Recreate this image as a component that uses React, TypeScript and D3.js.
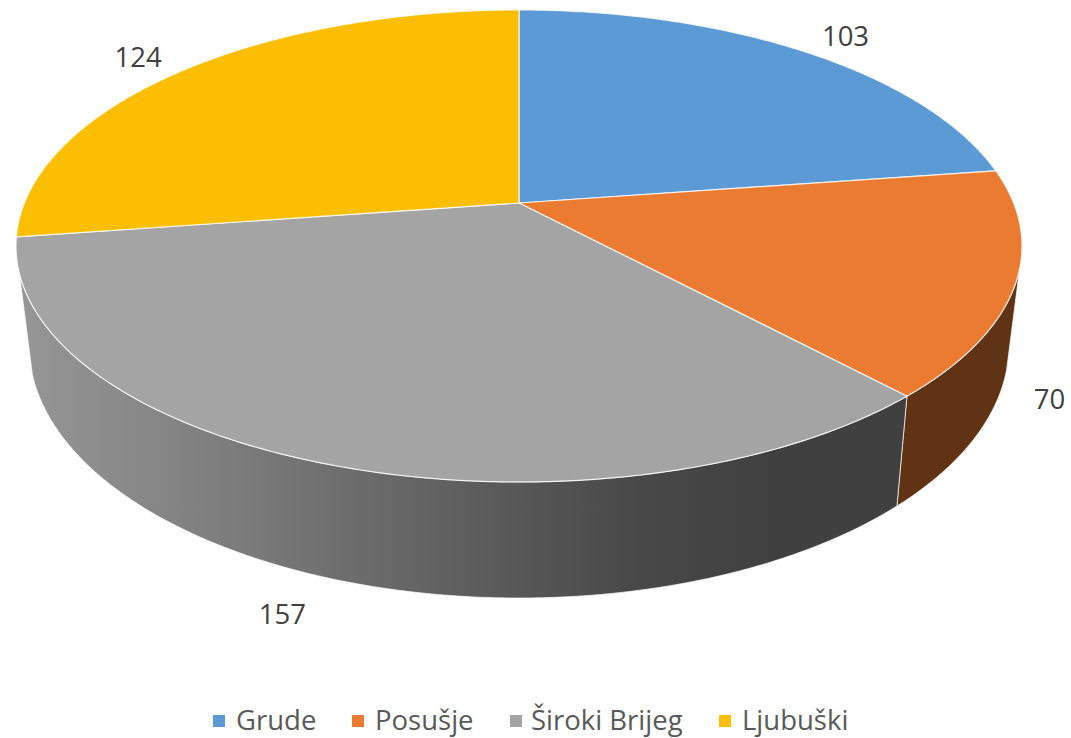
import React from 'react';
import * as d3 from 'd3';

const categories = ['Grude', 'Posušje', 'Široki Brijeg', 'Ljubuški'];
const values = [103, 70, 157, 124];
const topColors = ['#5b9ad5', '#eb7b30', '#a4a4a4', '#fbbe00'];
// only the slices that face the viewer show a side wall
const sideColors = ['#2f5597', '#5f3314', 'url(#sideGrey)', '#7f6000'];
const greyStops = ['#959595', '#868686', '#767676', '#666666', '#565656', '#474747', '#404040', '#404040'];

const width = 1071;
const height = 738;

// perspective of the top disc and of the (rounder) bottom disc
const cx = 519;
const tilt = 0.182;
const topDisc = { cy: 203, sx: 494.6, sy: 228.2 };
const bottomDisc = { cy: 299, sx: 481.8, sy: 244.6 };

// angles where the wall silhouette leaves the disc
const wallStart = d3.scaleLinear().domain([0, 360]).range([0, Math.PI * 2])(106);
const wallEnd = d3.scaleLinear().domain([0, 360]).range([0, Math.PI * 2])(253);

function project(angle: number, r = 1, disc = topDisc): [number, number] {
  const x = Math.sin(angle) * r;
  const y = -Math.cos(angle) * r;
  const w = 1 - tilt * y;
  return [cx + (disc.sx * x) / w, disc.cy + (disc.sy * y) / w];
}

function arcAngles(a0: number, a1: number) {
  const n = Math.max(2, Math.ceil((a1 - a0) / 0.01));
  return d3.range(n + 1).map((i) => a0 + ((a1 - a0) * i) / n);
}

const line = d3.line();

const arcs = d3.pie<number>().sort(null)(values);

function topPath(a0: number, a1: number) {
  const pts: [number, number][] = arcAngles(a0, a1).map((a) => project(a));
  return line([[cx, topDisc.cy], ...pts, [cx, topDisc.cy]]) + 'Z';
}

function sidePath(a0: number, a1: number) {
  const from = arcAngles(a0, a1);
  const upper = from.map((a) => project(a));
  const lower = from.slice().reverse().map((a) => project(a, 1, bottomDisc));
  return line([...upper, ...lower]) + 'Z';
}

const xGrad = d3.scaleLinear().domain([0, greyStops.length - 1]).range([0, 100]);

// label position = point on the disc, pushed out by a radius factor and nudged
const labelRadius = [1.16, 1.12, 1.13, 1.12];
const labelShift: [number, number][] = [[3, 5], [-30, 104], [-6, 109], [-11, 1]];

const legendX = [213, 352, 510, 719];
const legendTextX = [236, 375, 531, 742];
const fmt = d3.format('d');

export default function App() {
  const labels = arcs.map((d, i) => {
    const mid = (d.startAngle + d.endAngle) / 2;
    const [x, y] = project(mid, labelRadius[i]);
    return [x + labelShift[i][0], y + labelShift[i][1]];
  });

  return (
    <svg
      width={width}
      height={height}
      style={{ position: 'absolute', left: 0, top: 0, background: '#fff' }}
    >
      <defs>
        <linearGradient id="sideGrey" gradientUnits="userSpaceOnUse" x1={30} x2={900} y1={0} y2={0}>
          {greyStops.map((c, i) => (
            <stop key={i} offset={`${xGrad(i)}%`} stopColor={c} />
          ))}
        </linearGradient>
      </defs>

      {arcs.map((d, i) => {
        const a0 = Math.max(d.startAngle, wallStart);
        const a1 = Math.min(d.endAngle, wallEnd);
        if (a1 <= a0) return null;
        return (
          <path
            key={i}
            d={sidePath(a0, a1)}
            fill={sideColors[i]}
            stroke="#fff"
            strokeOpacity={0.7}
            strokeWidth={1}
            strokeLinejoin="round"
          />
        );
      })}

      {arcs.map((d, i) => (
        <path
          key={i}
          d={topPath(d.startAngle, d.endAngle)}
          fill={topColors[i]}
          stroke="#fff"
          strokeOpacity={0.8}
          strokeWidth={1.2}
          strokeLinejoin="round"
        />
      ))}

      {arcs.map((d, i) => (
        <text
          key={i}
          x={labels[i][0]}
          y={labels[i][1]}
          textAnchor="middle"
          dominantBaseline="central"
          fontFamily="'Open Sans', sans-serif"
          fontSize={27.5}
          fill="#404040"
        >
          {fmt(d.data)}
        </text>
      ))}

      {categories.map((c, i) => (
        <g key={c}>
          <rect x={legendX[i]} y={715} width={12} height={12} fill={topColors[i]} />
          <text
            x={legendTextX[i]}
            y={719}
            dominantBaseline="central"
            fontFamily="'Open Sans', sans-serif"
            fontSize={27.5}
            fill="#595959"
          >
            {c}
          </text>
        </g>
      ))}
    </svg>
  );
}
